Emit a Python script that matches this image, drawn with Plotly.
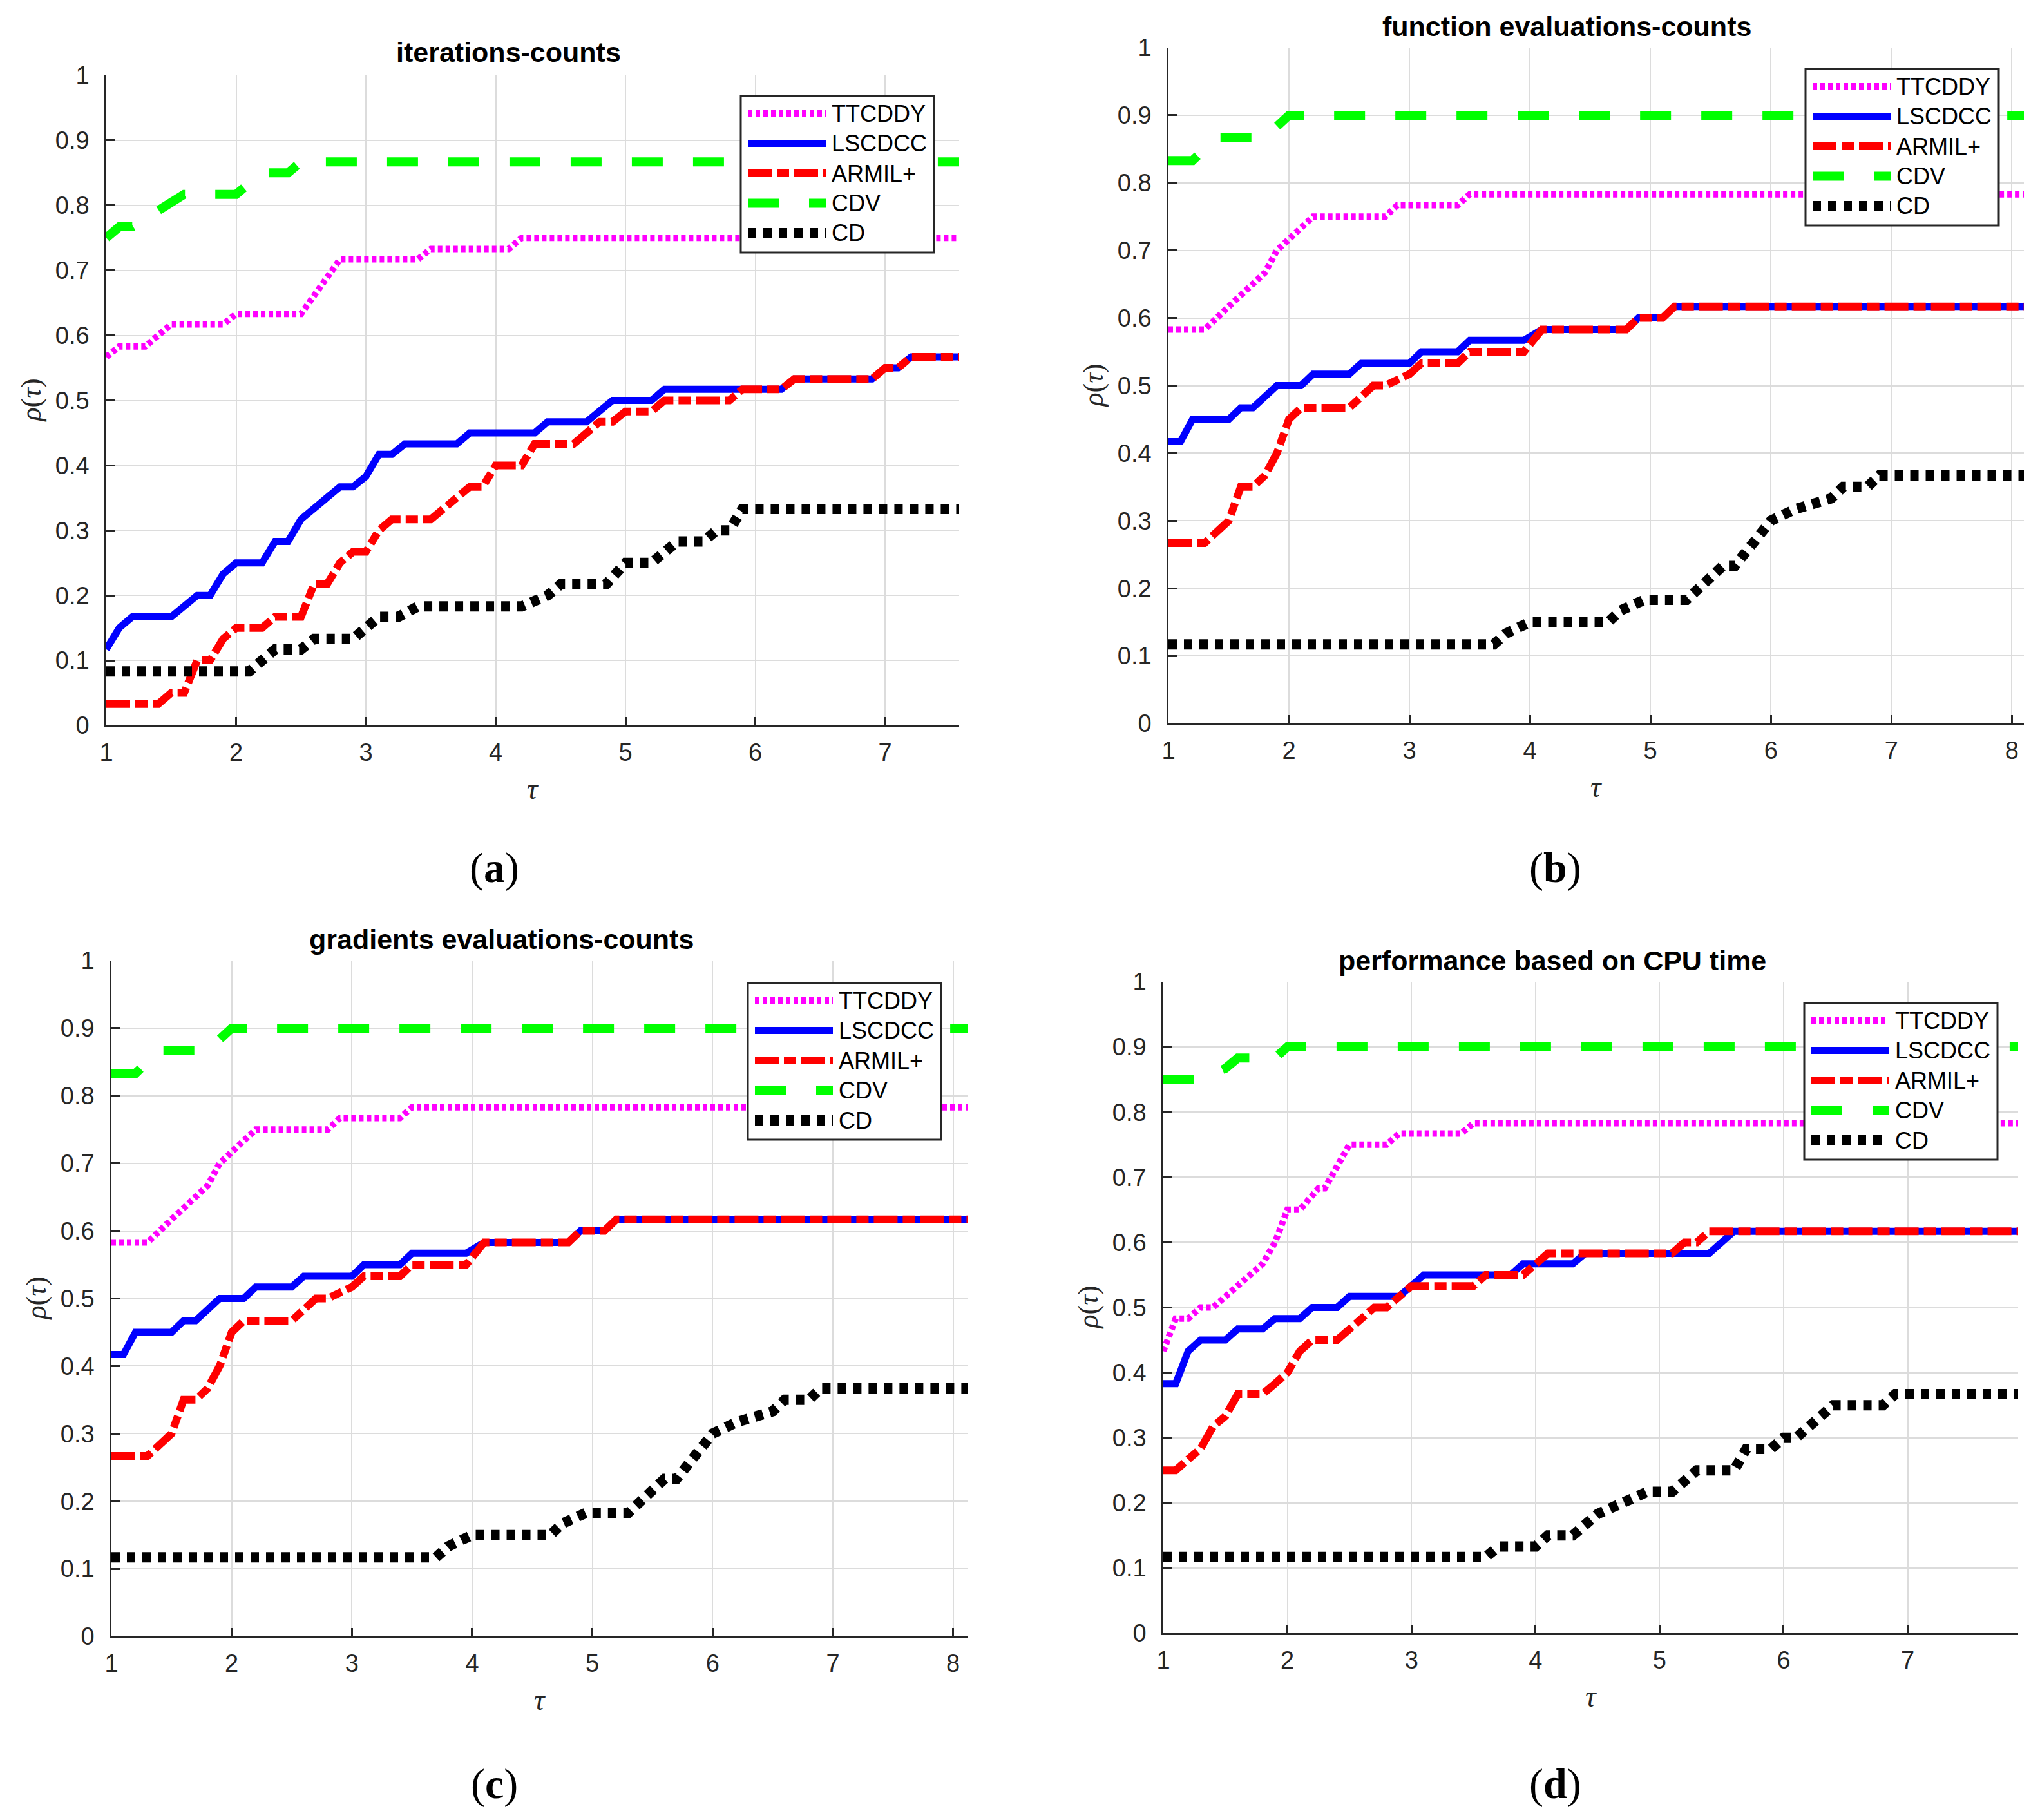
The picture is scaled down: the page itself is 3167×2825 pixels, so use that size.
import plotly.graph_objects as go

W, H = 3167, 2825

names = ["TTCDDY", "LSCDCC", "ARMIL+", "CDV", "CD"]

# ---- (a) iterations-counts
a_ttcddy_x = [1, 1.1, 1.3, 1.5, 1.9, 2.0, 2.5, 2.8, 3.4, 3.5, 4.1, 4.2, 7.57]
a_ttcddy_y = [0.567, 0.583, 0.583, 0.617, 0.617, 0.633, 0.633, 0.717, 0.717, 0.733, 0.733, 0.75, 0.75]
a_lscdcc_x = [1, 1.1, 1.2, 1.5, 1.7, 1.8, 1.9, 2.0, 2.2, 2.3, 2.4, 2.5, 2.8, 2.9, 3.0, 3.1, 3.2, 3.3,
              3.7, 3.8, 4.3, 4.4, 4.7, 4.9, 5.2, 5.3, 6.2, 6.3, 6.9, 7.0, 7.1, 7.2, 7.57]
a_lscdcc_y = [0.117, 0.15, 0.167, 0.167, 0.2, 0.2, 0.233, 0.25, 0.25, 0.283, 0.283, 0.317, 0.367, 0.367,
              0.383, 0.417, 0.417, 0.433, 0.433, 0.45, 0.45, 0.467, 0.467, 0.5, 0.5, 0.517, 0.517, 0.533,
              0.533, 0.55, 0.55, 0.567, 0.567]
a_armil_x = [1, 1.4, 1.5, 1.6, 1.7, 1.8, 1.9, 2.0, 2.2, 2.3, 2.5, 2.6, 2.7, 2.8, 2.9, 3.0, 3.1, 3.2, 3.5,
             3.7, 3.8, 3.9, 4.0, 4.2, 4.3, 4.6, 4.8, 4.9, 5.0, 5.2, 5.3, 5.8, 5.9, 6.2, 6.3, 6.9, 7.0,
             7.1, 7.2, 7.57]
a_armil_y = [0.033, 0.033, 0.05, 0.05, 0.1, 0.1, 0.133, 0.15, 0.15, 0.167, 0.167, 0.217, 0.217, 0.25,
             0.267, 0.267, 0.3, 0.317, 0.317, 0.35, 0.367, 0.367, 0.4, 0.4, 0.433, 0.433, 0.467, 0.467,
             0.483, 0.483, 0.5, 0.5, 0.517, 0.517, 0.533, 0.533, 0.55, 0.55, 0.567, 0.567]
a_cdv_x = [1, 1.1, 1.2, 1.6, 2.0, 2.2, 2.4, 2.5, 7.57]
a_cdv_y = [0.75, 0.767, 0.767, 0.817, 0.817, 0.85, 0.85, 0.867, 0.867]
a_cd_x = [1, 2.1, 2.3, 2.5, 2.6, 2.9, 3.1, 3.25, 3.4, 4.2, 4.4, 4.5, 4.85, 5.0, 5.2, 5.4, 5.6, 5.7,
          5.8, 5.9, 7.57]
a_cd_y = [0.083, 0.083, 0.117, 0.117, 0.133, 0.133, 0.167, 0.167, 0.183, 0.183, 0.2, 0.217, 0.217,
          0.25, 0.25, 0.283, 0.283, 0.3, 0.3, 0.333, 0.333]

# ---- (b) function evaluations-counts
b_ttcddy_x = [1, 1.3, 1.5, 1.7, 1.8, 1.9, 2.0, 2.2, 2.8, 2.9, 3.4, 3.5, 8.1]
b_ttcddy_y = [0.583, 0.583, 0.617, 0.65, 0.667, 0.7, 0.717, 0.75, 0.75, 0.767, 0.767, 0.783, 0.783]
b_lscdcc_x = [1, 1.1, 1.2, 1.5, 1.6, 1.7, 1.9, 2.1, 2.2, 2.5, 2.6, 3.0, 3.1, 3.4, 3.5, 3.95, 4.1,
              4.8, 4.9, 5.1, 5.2, 8.1]
b_lscdcc_y = [0.417, 0.417, 0.45, 0.45, 0.467, 0.467, 0.5, 0.5, 0.517, 0.517, 0.533, 0.533, 0.55,
              0.55, 0.567, 0.567, 0.583, 0.583, 0.6, 0.6, 0.617, 0.617]
b_armil_x = [1, 1.3, 1.5, 1.6, 1.7, 1.8, 1.9, 2.0, 2.1, 2.5, 2.7, 2.8, 3.0, 3.1, 3.4, 3.5, 3.95, 4.1,
             4.8, 4.9, 5.1, 5.2, 8.1]
b_armil_y = [0.267, 0.267, 0.3, 0.35, 0.35, 0.367, 0.4, 0.45, 0.467, 0.467, 0.5, 0.5, 0.517, 0.533,
             0.533, 0.55, 0.55, 0.583, 0.583, 0.6, 0.6, 0.617, 0.617]
b_cdv_x = [1, 1.2, 1.4, 1.8, 2.0, 8.1]
b_cdv_y = [0.833, 0.833, 0.867, 0.867, 0.9, 0.9]
b_cd_x = [1, 3.7, 3.8, 4.0, 4.65, 4.75, 4.95, 5.3, 5.6, 5.7, 6.0, 6.2, 6.5, 6.6, 6.8, 6.9, 8.1]
b_cd_y = [0.117, 0.117, 0.133, 0.15, 0.15, 0.167, 0.183, 0.183, 0.233, 0.233, 0.3, 0.317, 0.333,
          0.35, 0.35, 0.367, 0.367]

# ---- (c) gradients evaluations-counts
c_ttcddy_x = [1, 1.3, 1.5, 1.7, 1.8, 1.9, 2.0, 2.2, 2.8, 2.9, 3.4, 3.5, 8.12]
c_ttcddy_y = [0.583, 0.583, 0.617, 0.65, 0.667, 0.7, 0.717, 0.75, 0.75, 0.767, 0.767, 0.783, 0.783]
c_lscdcc_x = [1, 1.1, 1.2, 1.5, 1.6, 1.7, 1.9, 2.1, 2.2, 2.5, 2.6, 3.0, 3.1, 3.4, 3.5, 3.95, 4.1,
              4.8, 4.9, 5.1, 5.2, 8.12]
c_lscdcc_y = [0.417, 0.417, 0.45, 0.45, 0.467, 0.467, 0.5, 0.5, 0.517, 0.517, 0.533, 0.533, 0.55,
              0.55, 0.567, 0.567, 0.583, 0.583, 0.6, 0.6, 0.617, 0.617]
c_armil_x = [1, 1.3, 1.5, 1.6, 1.7, 1.8, 1.9, 2.0, 2.1, 2.5, 2.7, 2.8, 3.0, 3.1, 3.4, 3.5, 3.95, 4.1,
             4.8, 4.9, 5.1, 5.2, 8.12]
c_armil_y = [0.267, 0.267, 0.3, 0.35, 0.35, 0.367, 0.4, 0.45, 0.467, 0.467, 0.5, 0.5, 0.517, 0.533,
             0.533, 0.55, 0.55, 0.583, 0.583, 0.6, 0.6, 0.617, 0.617]
c_cdv_x = [1, 1.2, 1.4, 1.8, 2.0, 8.12]
c_cdv_y = [0.833, 0.833, 0.867, 0.867, 0.9, 0.9]
c_cd_x = [1, 3.7, 3.8, 4.0, 4.65, 4.75, 4.95, 5.3, 5.6, 5.7, 6.0, 6.2, 6.5, 6.6, 6.8, 6.9, 8.12]
c_cd_y = [0.117, 0.117, 0.133, 0.15, 0.15, 0.167, 0.183, 0.183, 0.233, 0.233, 0.3, 0.317, 0.333,
          0.35, 0.35, 0.367, 0.367]

# ---- (d) performance based on CPU time
d_ttcddy_x = [1, 1.1, 1.2, 1.3, 1.4, 1.6, 1.8, 1.9, 2.0, 2.1, 2.25, 2.3, 2.5, 2.8, 2.9, 3.4, 3.5, 7.89]
d_ttcddy_y = [0.433, 0.483, 0.483, 0.5, 0.5, 0.533, 0.567, 0.6, 0.65, 0.65, 0.683, 0.683, 0.75, 0.75,
              0.767, 0.767, 0.783, 0.783]
d_lscdcc_x = [1, 1.1, 1.2, 1.3, 1.5, 1.6, 1.8, 1.9, 2.1, 2.2, 2.4, 2.5, 2.9, 3.1, 3.8, 3.9, 4.3, 4.4,
              5.4, 5.6, 7.89]
d_lscdcc_y = [0.383, 0.383, 0.433, 0.45, 0.45, 0.467, 0.467, 0.483, 0.483, 0.5, 0.5, 0.517, 0.517,
              0.55, 0.55, 0.567, 0.567, 0.583, 0.583, 0.617, 0.617]
d_armil_x = [1, 1.1, 1.2, 1.3, 1.4, 1.5, 1.6, 1.8, 1.9, 2.0, 2.1, 2.2, 2.4, 2.5, 2.7, 2.8, 3.0, 3.5,
             3.6, 3.9, 4.1, 5.1, 5.2, 5.3, 5.4, 7.89]
d_armil_y = [0.25, 0.25, 0.267, 0.283, 0.317, 0.333, 0.367, 0.367, 0.383, 0.4, 0.433, 0.45, 0.45,
             0.467, 0.5, 0.5, 0.533, 0.533, 0.55, 0.55, 0.583, 0.583, 0.6, 0.6, 0.617, 0.617]
d_cdv_x = [1, 1.3, 1.5, 1.6, 1.9, 2.0, 7.89]
d_cdv_y = [0.85, 0.85, 0.867, 0.883, 0.883, 0.9, 0.9]
d_cd_x = [1, 3.6, 3.7, 4.0, 4.1, 4.3, 4.5, 4.7, 4.9, 5.1, 5.3, 5.6, 5.7, 5.9, 6.0, 6.1, 6.4, 6.8, 6.9,
          7.89]
d_cd_y = [0.117, 0.117, 0.133, 0.133, 0.15, 0.15, 0.183, 0.2, 0.217, 0.217, 0.25, 0.25, 0.283, 0.283,
          0.3, 0.3, 0.35, 0.35, 0.367, 0.367]

titles = ["iterations-counts", "function evaluations-counts",
          "gradients evaluations-counts", "performance based on CPU time"]
letters = ["a", "b", "c", "d"]
x_max = [7.57, 8.1, 8.12, 7.89]
x_ticks = [[1, 2, 3, 4, 5, 6, 7], [1, 2, 3, 4, 5, 6, 7, 8],
           [1, 2, 3, 4, 5, 6, 7, 8], [1, 2, 3, 4, 5, 6, 7]]
y_ticks = [0, 0.1, 0.2, 0.3, 0.4, 0.5, 0.6, 0.7, 0.8, 0.9, 1]
y_tick_text = ["0", "0.1", "0.2", "0.3", "0.4", "0.5", "0.6", "0.7", "0.8", "0.9", "1"]

panels = [
    [(a_ttcddy_x, a_ttcddy_y), (a_lscdcc_x, a_lscdcc_y), (a_armil_x, a_armil_y),
     (a_cdv_x, a_cdv_y), (a_cd_x, a_cd_y)],
    [(b_ttcddy_x, b_ttcddy_y), (b_lscdcc_x, b_lscdcc_y), (b_armil_x, b_armil_y),
     (b_cdv_x, b_cdv_y), (b_cd_x, b_cd_y)],
    [(c_ttcddy_x, c_ttcddy_y), (c_lscdcc_x, c_lscdcc_y), (c_armil_x, c_armil_y),
     (c_cdv_x, c_cdv_y), (c_cd_x, c_cd_y)],
    [(d_ttcddy_x, d_ttcddy_y), (d_lscdcc_x, d_lscdcc_y), (d_armil_x, d_armil_y),
     (d_cdv_x, d_cdv_y), (d_cd_x, d_cd_y)],
]

# line styles (MATLAB-like)
styles = [
    dict(color="#ff00ff", width=10, dash="7px,5px"),
    dict(color="#0000ff", width=11, dash="solid"),
    dict(color="#ff0000", width=12, dash="37px,8px,19px,8px"),
    dict(color="#00ff00", width=14, dash="48px,47px"),
    dict(color="#000000", width=16, dash="13px,11px"),
]

# page offset of the plot div (default body margin)
OFF = 8

# plot boxes in pixels of the picture: left, top, right, bottom
boxes = [(165, 117, 1489, 1126), (1814, 74, 3142, 1123),
         (173, 1491, 1502, 2540), (1806, 1524, 3133, 2535)]
title_pos = [(789, 95), (2432, 55), (778, 1472), (2410, 1505)]
legend_pos = [(1150, 149), (2803, 107), (1161, 1526), (2801, 1557)]
label_pos = [(767, 1347), (2414, 1347), (767, 2769), (2414, 2769)]


def px(x):
    return (x - OFF) / W


def py(y):
    return 1 - (y - OFF) / H


AXC = "#262626"
SANS = "Liberation Sans, Arial, sans-serif"
SERIF = "Liberation Serif, Times New Roman, serif"

fig = go.Figure()
annotations = []
shapes = []

for i in range(4):
    sfx = "" if i == 0 else str(i + 1)
    for k in range(5):
        xs, ys = panels[i][k]
        fig.add_trace(go.Scatter(x=xs, y=ys, mode="lines", name=names[k], showlegend=False,
                                 line=styles[k], xaxis="x" + sfx, yaxis="y" + sfx))
    l, t, r, b = boxes[i]
    fig.layout["xaxis" + sfx] = dict(
        domain=[px(l), px(r)], anchor="y" + sfx, range=[1, x_max[i]], automargin=False,
        tickmode="array", tickvals=x_ticks[i], ticks="inside", ticklen=13, tickwidth=2.5,
        tickcolor=AXC, showline=True, linecolor=AXC, linewidth=2.5, showgrid=True,
        gridcolor="#dcdcdc", gridwidth=2, zeroline=False,
        tickfont=dict(family=SANS, size=38, color=AXC), ticklabelstandoff=7)
    fig.layout["yaxis" + sfx] = dict(
        domain=[py(b), py(t)], anchor="x" + sfx, range=[0, 1], automargin=False,
        tickmode="array", tickvals=y_ticks, ticktext=y_tick_text, ticks="inside", ticklen=13,
        tickwidth=2.5, tickcolor=AXC, showline=True, linecolor=AXC, linewidth=2.5, showgrid=True,
        gridcolor="#dcdcdc", gridwidth=2, zeroline=False,
        tickfont=dict(family=SANS, size=38, color=AXC), ticklabelstandoff=16)

    # title
    tx, ty = title_pos[i]
    annotations.append(dict(text="<b>" + titles[i] + "</b>", x=px(tx), y=py(ty - 14),
                            xref="paper", yref="paper", showarrow=False, xanchor="center",
                            yanchor="middle", font=dict(family=SANS, size=43, color="#000000")))
    # axis labels
    cx = (l + r) / 2
    annotations.append(dict(text="<i>τ</i>", x=px(cx), y=py(b + 98), xref="paper", yref="paper",
                            showarrow=False, xanchor="center", yanchor="middle",
                            font=dict(family=SERIF, size=46, color=AXC)))
    annotations.append(dict(text="<i>ρ</i>(<i>τ</i>)", x=px(l - 117), y=py((t + b) / 2),
                            xref="paper", yref="paper", showarrow=False, xanchor="center",
                            yanchor="middle", textangle=-90,
                            font=dict(family=SERIF, size=44, color=AXC)))
    # panel letter
    lbx, lby = label_pos[i]
    annotations.append(dict(text="(<b>" + letters[i] + "</b>)", x=px(lbx), y=py(lby),
                            xref="paper", yref="paper", showarrow=False,
                            xanchor="center", yanchor="middle",
                            font=dict(family=SERIF, size=66, color="#000000")))

    # legend box drawn by hand
    lx, ly = legend_pos[i]
    shapes.append(dict(type="rect", xref="paper", yref="paper", x0=px(lx), x1=px(lx + 300),
                       y0=py(ly), y1=py(ly + 243), line=dict(color=AXC, width=3),
                       fillcolor="white", layer="above"))
    for k in range(5):
        ry = ly + 27 + 46.5 * k
        st = styles[k]
        shapes.append(dict(type="line", xref="paper", yref="paper", x0=px(lx + 11),
                           x1=px(lx + 132), y0=py(ry), y1=py(ry), layer="above",
                           line=dict(color=st["color"], width=st["width"], dash=st["dash"])))
        annotations.append(dict(text=names[k], x=px(lx + 139), y=py(ry), xref="paper",
                                yref="paper", showarrow=False, xanchor="left", yanchor="middle",
                                font=dict(family=SANS, size=36, color="#000000")))

fig.update_layout(template="none", width=W, height=H, margin=dict(l=0, r=0, t=0, b=0, pad=0),
                  paper_bgcolor="white", plot_bgcolor="white", showlegend=False,
                  annotations=annotations, shapes=shapes)

fig.write_html("out.html")
